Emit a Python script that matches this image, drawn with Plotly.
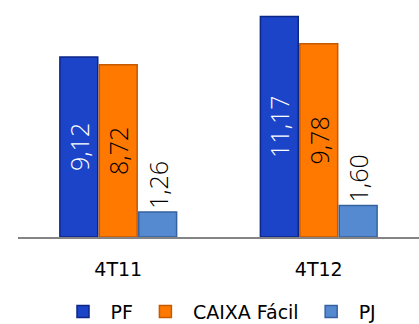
import plotly.graph_objects as go

categories = ["4T11", "4T12"]
pf = [9.12, 11.17]
caixa = [8.72, 9.78]
pj = [1.26, 1.60]
series_names = ["PF", "CAIXA Fácil", "PJ"]

def fmt(v):
    return f"{v:.2f}".replace(".", ",")

fill = ["#1c44c9", "#ff7800", "#568ad0"]
edge = ["#0c2686", "#c55a00", "#34629e"]
txtcol = ["white", "black", "black"]
pos = ["inside", "inside", "outside"]
lblfont = "Open Sans"

fig = go.Figure()
for i, (name, vals) in enumerate(zip(series_names, [pf, caixa, pj])):
    f = dict(family=lblfont, size=25, color=txtcol[i], weight=300)
    fig.add_trace(go.Bar(
        x=categories, y=vals, name=name,
        text=[fmt(v) for v in vals],
        textposition=pos[i],
        insidetextanchor="middle",
        textangle=-90,
        constraintext="none",
        textfont=f, outsidetextfont=f, insidetextfont=f,
        cliponaxis=False,
        marker=dict(color=fill[i], line=dict(color=edge[i], width=1.5)),
    ))

fig.update_layout(
    width=419, height=324,
    margin=dict(l=18, r=0, t=0, b=87, autoexpand=False),
    paper_bgcolor="white", plot_bgcolor="white",
    barmode="group", bargap=0.41, bargroupgap=0.04,
    font=dict(family="DejaVu Sans", size=19, color="black"),
    showlegend=True,
    legend=dict(orientation="h", x=0.5, xanchor="center", y=-0.315, yanchor="middle",
                font=dict(size=19), traceorder="normal", itemwidth=45),
    xaxis=dict(showline=True, linecolor="#848484", linewidth=2, ticks="",
               ticklabelstandoff=14,
               tickfont=dict(size=19), showgrid=False),
    yaxis=dict(visible=False, range=[0, 12], showgrid=False, zeroline=False),
)

fig.write_html("out.html")
